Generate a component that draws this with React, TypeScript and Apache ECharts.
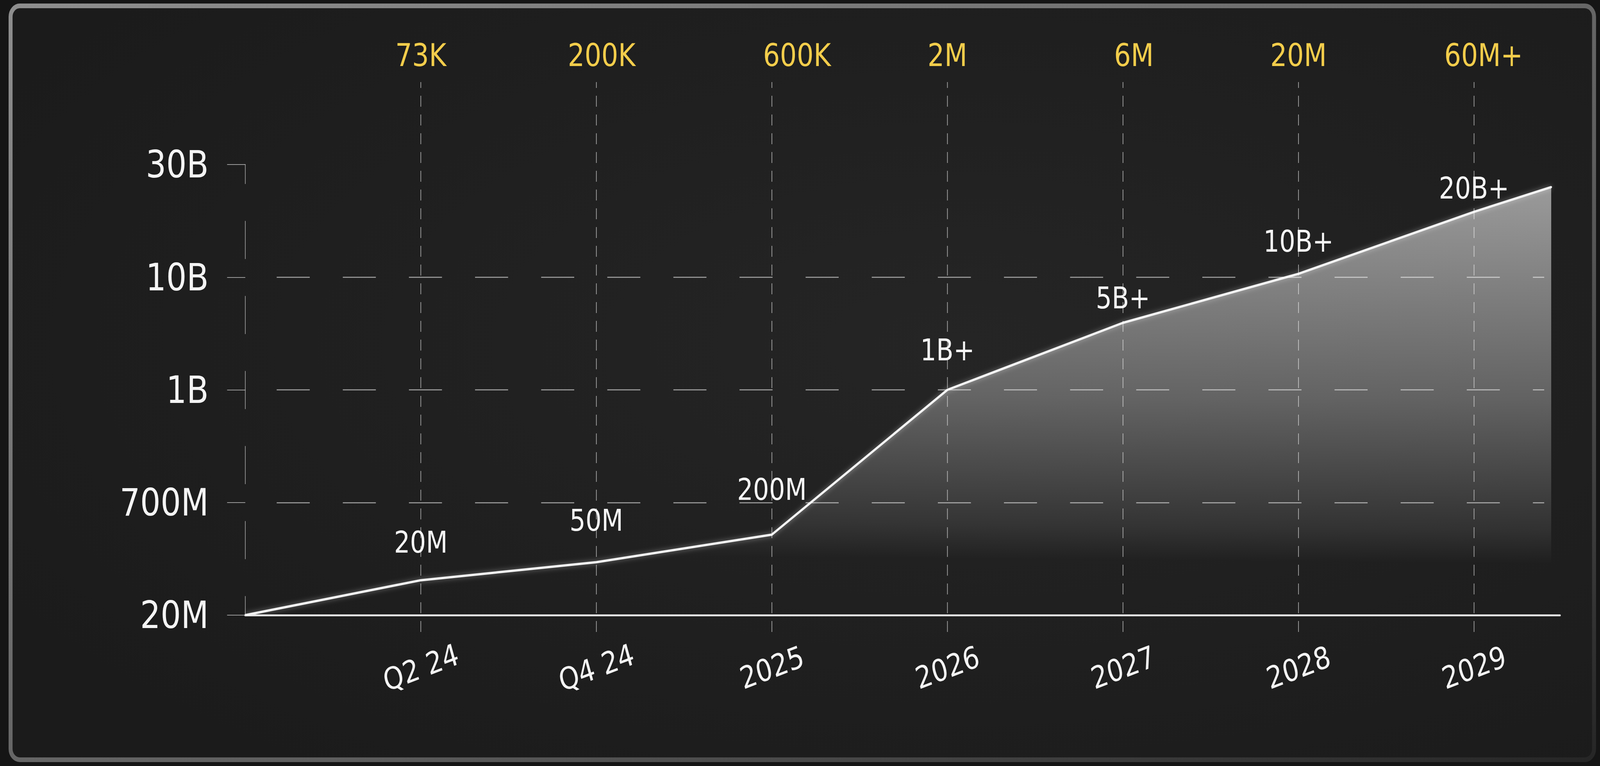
import React, { useEffect, useRef } from 'react';
import * as echarts from 'echarts';

// ---- data ----
const CATEGORIES = ['Q2 24', 'Q4 24', '2025', '2026', '2027', '2028', '2029'];
const TOP_LABELS = ['73K', '200K', '600K', '2M', '6M', '20M', '60M+'];
const Y_TICK_LABELS = ['20M', '700M', '1B', '10B', '30B'];
// line vertices: x in category steps from the origin, y in tick-level steps
const POINT_X = [0, 1, 2, 3, 4, 5, 6, 7, 7.44];
const POINT_LEVEL = [0, 0.31, 0.47, 0.715, 2.0, 2.595, 3.03, 3.58, 3.8];
const POINT_LABELS = ['', '20M', '50M', '200M', '1B+', '5B+', '10B+', '20B+', ''];
const GRID_LEVELS = [1, 2, 3];

// ---- style / layout ----
const W = 4840;
const H = 1960;
const FONT = 'DejaVu Sans';
const X_MAX = 7.49;
const DASH_END_X = 7.4;
const LABEL_LIFT = [0, 94, 104, 112, 99, 60, 80, 57, 0];
const TOP_LABEL_SHIFT = [0, 16, 76, 0, 33, 0, 29];
const DATA_FONT = 76;

export default function App() {
  const wrapRef = useRef<HTMLDivElement>(null);
  const ref = useRef<HTMLDivElement>(null);

  useEffect(() => {
    document.body.style.margin = '0';
    document.body.style.overflow = 'hidden';
    document.body.style.background = '#151515';
    const fit = () => {
      if (!wrapRef.current) return;
      const vw = window.innerWidth || W;
      const vh = window.innerHeight || H;
      wrapRef.current.style.transform = `scale(${vw / W}, ${vh / H})`;
    };
    fit();
    window.addEventListener('resize', fit);
    if (!ref.current) return;
    const chart = echarts.init(ref.current, null, { renderer: 'svg' });

    const isInt = (v: number) => Math.abs(v - Math.round(v)) < 1e-6;

    const option = {
      animation: false,
      backgroundColor: '#151515',
      graphic: [
        {
          type: 'rect',
          z: -10,
          silent: true,
          shape: { x: 32, y: 15, width: 4790, height: 1929, r: 28 },
          style: {
            fill: new echarts.graphic.RadialGradient(0.6, 0.45, 0.7, [
              { offset: 0, color: '#252525' },
              { offset: 1, color: '#1b1b1b' },
            ]),
            stroke: new echarts.graphic.LinearGradient(0, 0, 1, 1, [
              { offset: 0, color: '#8e8e8e' },
              { offset: 0.6, color: '#5e5e5e' },
              { offset: 1, color: '#262626' },
            ]),
            lineWidth: 12,
          },
        },
      ],
      grid: [
        { left: 742, right: 121, top: 421, bottom: 386 },
        { left: 742, right: 121, top: 210, bottom: 343 },
      ],
      xAxis: [
        {
          type: 'value',
          gridIndex: 0,
          min: 0,
          max: X_MAX,
          interval: 1,
          axisLine: { show: true, onZero: true, lineStyle: { color: '#e0e0e0', width: 5 } },
          axisTick: { show: false },
          splitLine: { show: false },
          axisLabel: {
            formatter: (v: number) => (isInt(v) && v >= 1 && v <= CATEGORIES.length ? CATEGORIES[Math.round(v) - 1] : ''),
            rotate: 18,
            align: 'center',
            verticalAlign: 'middle',
            margin: 134,
            fontSize: 78,
            color: '#f4f4f4',
            fontFamily: FONT,
          },
        },
        { type: 'value', gridIndex: 1, min: 0, max: X_MAX, show: false },
      ],
      yAxis: [
        {
          type: 'value',
          gridIndex: 0,
          min: 0,
          max: 4,
          interval: 1,
          axisLine: {
            show: true,
            lineStyle: { color: 'rgba(255,255,255,0.55)', width: 2, type: [96, 96], dashOffset: 48 },
          },
          axisTick: { show: true, inside: false, length: 55, lineStyle: { color: 'rgba(255,255,255,0.55)', width: 2 } },
          splitLine: { show: false },
          axisLabel: {
            formatter: (v: number) => (isInt(v) ? Y_TICK_LABELS[Math.round(v)] ?? '' : ''),
            margin: 111,
            fontSize: 97,
            color: '#f4f4f4',
            fontFamily: FONT,
            padding: [0, 0, 20, 0],
          },
        },
        { type: 'value', gridIndex: 1, min: 0, max: 1, show: false },
      ],
      series: [
        {
          type: 'line',
          xAxisIndex: 0,
          yAxisIndex: 0,
          symbol: 'circle',
          symbolSize: 5,
          itemStyle: { color: '#f4f4f4' },
          lineStyle: { color: '#f4f4f4', width: 6, shadowBlur: 14, shadowColor: 'rgba(255,255,255,0.45)' },
          areaStyle: {
            color: new echarts.graphic.LinearGradient(1, 0, 0.974, 1, [
              { offset: 0, color: 'rgba(235,235,235,0.86)' },
              { offset: 0.5, color: 'rgba(235,235,235,0.46)' },
              { offset: 0.8, color: 'rgba(235,235,235,0.13)' },
              { offset: 0.88, color: 'rgba(235,235,235,0)' },
            ]),
          },
          label: {
            show: true,
            position: 'top',
            fontSize: DATA_FONT,
            color: '#f6f6f6',
            fontFamily: FONT,
          },
          data: POINT_X.map((x, i) => ({
            value: [x, POINT_LEVEL[i]],
            label: {
              show: POINT_LABELS[i] !== '',
              formatter: POINT_LABELS[i],
              distance: Math.max(0, LABEL_LIFT[i] - DATA_FONT / 2),
            },
          })),
          markLine: {
            silent: true,
            symbol: ['none', 'none'],
            label: { show: false },
            lineStyle: { color: 'rgba(255,255,255,0.5)', width: 3, type: [100, 100], dashOffset: 105 },
            data: GRID_LEVELS.map((l) => [{ coord: [0, l] }, { coord: [DASH_END_X, l] }]),
          },
        },
        {
          type: 'line',
          xAxisIndex: 1,
          yAxisIndex: 1,
          silent: true,
          symbol: 'none',
          lineStyle: { opacity: 0 },
          data: CATEGORIES.map((_, i) => [i + 1, 0]),
          markLine: {
            silent: true,
            symbol: ['none', 'none'],
            lineStyle: { color: 'rgba(255,255,255,0.62)', width: 2, type: [28, 20] },
            label: {
              show: true,
              position: 'end',
              distance: 29,
              fontSize: 80,
              color: '#f3cd4b',
              fontFamily: FONT,
            },
            data: TOP_LABELS.map((t, i) => ({
              xAxis: i + 1,
              label: { formatter: t, padding: [0, 0, 0, 2 * TOP_LABEL_SHIFT[i]] },
            })),
          },
        },
      ],
    };

    chart.setOption(option as any);
    return () => {
      window.removeEventListener('resize', fit);
      chart.dispose();
    };
  }, []);

  return (
    <div ref={wrapRef} style={{ width: W, height: H, transformOrigin: '0 0' }}>
      <div ref={ref} style={{ width: W, height: H }} />
    </div>
  );
}
